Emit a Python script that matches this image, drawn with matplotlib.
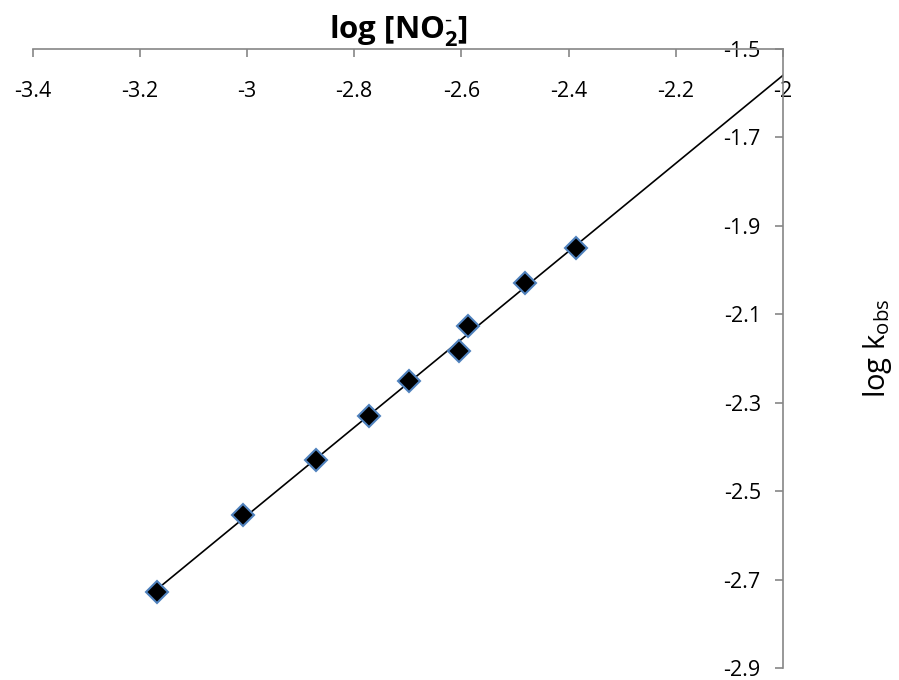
import numpy as np
import matplotlib
matplotlib.use("Agg")
import matplotlib.pyplot as plt
from matplotlib.ticker import FuncFormatter

plt.rcParams['font.family'] = ['Open Sans', 'DejaVu Sans']
plt.rcParams['axes.unicode_minus'] = False
plt.rcParams['mathtext.default'] = 'regular'

### Data
log_no2 = [-3.168, -3.007, -2.872, -2.772, -2.697, -2.604, -2.588, -2.481, -2.387]
log_kobs = [-2.727, -2.553, -2.429, -2.331, -2.252, -2.184, -2.126, -2.030, -1.950]
x_ticks = [-3.4, -3.2, -3.0, -2.8, -2.6, -2.4, -2.2, -2.0]
y_ticks = [-2.9, -2.7, -2.5, -2.3, -2.1, -1.9, -1.7, -1.5]

### Linear trendline, forecast forward to the axis end
slope, intercept = np.polyfit(log_no2, log_kobs, 1)
fit_x = np.array([min(log_no2), x_ticks[-1]])
fit_y = slope * fit_x + intercept

fig = plt.figure(figsize=(8.99, 6.80), dpi=100)
ax = fig.add_axes([32.5 / 899, 1 - 668 / 680, (783 - 32.5) / 899, (668 - 49) / 680])

ax.plot(fit_x, fit_y, color="black", lw=1.2, zorder=2)
ax.plot(log_no2, log_kobs, linestyle="none", marker="D", markersize=11,
        markerfacecolor="black", markeredgecolor="#4F81BD", markeredgewidth=1.5, zorder=3)

ax.set_xlim(x_ticks[0], x_ticks[-1])
ax.set_ylim(y_ticks[0], y_ticks[-1])
ax.set_xticks(x_ticks)
ax.set_yticks(y_ticks)
fmt = FuncFormatter(lambda v, p: f"{v:g}")
ax.xaxis.set_major_formatter(fmt)
ax.yaxis.set_major_formatter(fmt)

# axes cross at top-right like the excel chart
ax.spines['top'].set_visible(False)
ax.spines['right'].set_visible(False)
ax.spines['bottom'].set_position(('axes', 1.0))
ax.spines['left'].set_position(('axes', 1.0))
for s in ['bottom', 'left']:
    ax.spines[s].set_color("#868686")
    ax.spines[s].set_linewidth(1.2)
ax.tick_params(axis='x', direction='out', length=6, width=1.2, color="#868686",
               labelsize=15.5, pad=17)
ax.tick_params(axis='y', direction='out', length=6, width=1.2, color="#868686",
               labelsize=15.5, pad=10)
ax.patch.set_alpha(0)

fig.text(399 / 899, 1 - 31 / 680, "log [NO$_2^{\u2010}$]", fontsize=22.5, fontweight="bold",
         ha="center", va="center")
fig.text(877 / 899, 1 - 348 / 680, r"log k$_{obs}$", fontsize=21, rotation=90,
         ha="center", va="center")

fig.savefig("out.png", dpi=100)
